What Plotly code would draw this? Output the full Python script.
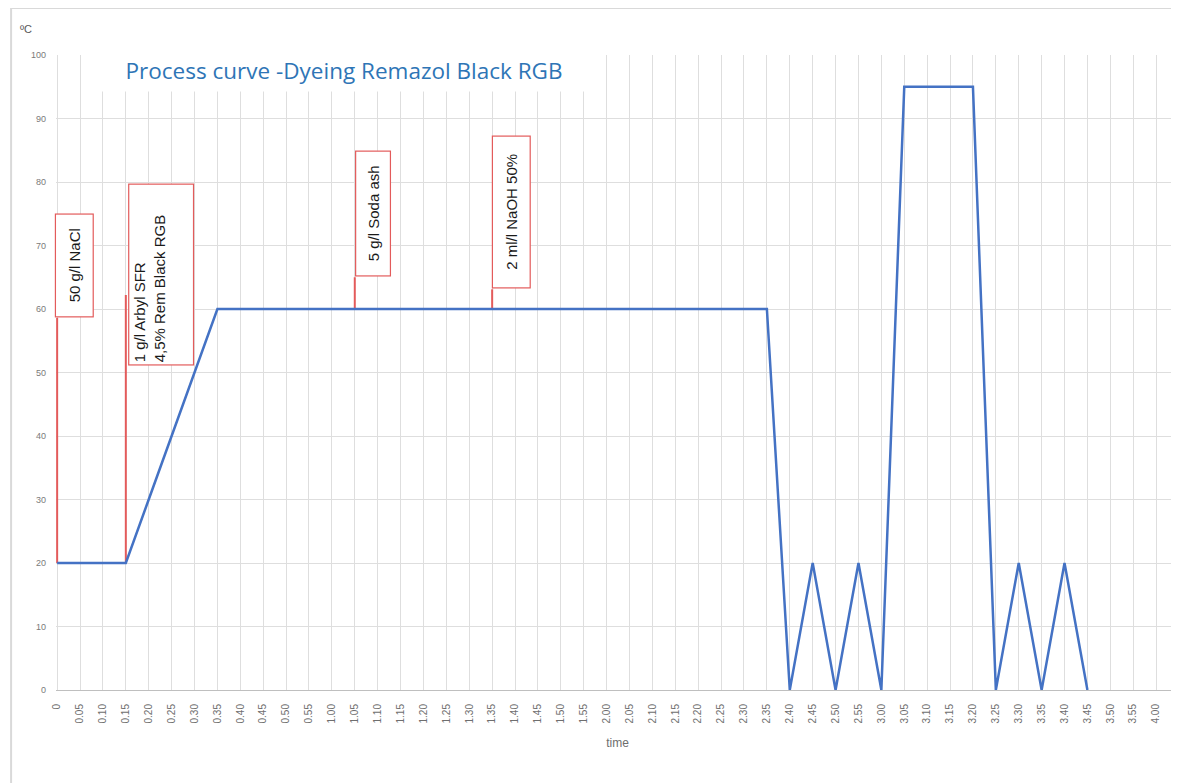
import plotly.graph_objects as go

# ---------------- data ----------------
time_labels = ["0", "0.05", "0.10", "0.15", "0.20", "0.25", "0.30", "0.35", "0.40", "0.45",
               "0.50", "0.55", "1.00", "1.05", "1.10", "1.15", "1.20", "1.25", "1.30", "1.35",
               "1.40", "1.45", "1.50", "1.55", "2.00", "2.05", "2.10", "2.15", "2.20", "2.25",
               "2.30", "2.35", "2.40", "2.45", "2.50", "2.55", "3.00", "3.05", "3.10", "3.15",
               "3.20", "3.25", "3.30", "3.35", "3.40", "3.45", "3.50", "3.55", "4.00"]

temperature = [20, 20, 20, 20, 30, 40, 50,
               60, 60, 60, 60, 60, 60, 60, 60, 60, 60, 60, 60, 60, 60, 60, 60, 60, 60, 60,
               60, 60, 60, 60, 60, 60,
               0, 20, 0, 20, 0,
               95, 95, 95, 95,
               0, 20, 0, 20, 0]

y_ticks = [0, 10, 20, 30, 40, 50, 60, 70, 80, 90, 100]

callout_times = ["0", "0.15", "1.05", "1.35"]
callout_texts = ["50 g/l NaCl",
                 "1 g/l Arbyl SFR<br>4,5% Rem Black RGB",
                 "5 g/l Soda ash",
                 "2 ml/l NaOH 50%"]

# ---------------- layout config for callouts (not data) ----------------
callout_line_top = [58.6, 62.2, 65.0, 63.1]
callout_box_y = [66.8, 65.4, 75.0, 75.3]
callout_box_w = [98, 176, 120, 147]
callout_box_h = [33, 60, 30, 33]
callout_xshift = [-2, 2, 0, 0]
callout_align = ["center", "left", "center", "center"]
callout_valign = ["middle", "top", "middle", "middle"]

RED = "#E35B5B"
BLUE = "#4472C4"
GRID = "#DEDEDE"

fig = go.Figure()

temp_at = dict(zip(time_labels, temperature))
for t, top in zip(callout_times, callout_line_top):
    fig.add_trace(go.Scatter(x=[t, t], y=[temp_at[t], top], mode="lines",
                             line=dict(color=RED, width=2), showlegend=False,
                             hoverinfo="skip"))

fig.add_trace(go.Scatter(x=time_labels[:len(temperature)], y=temperature, mode="lines",
                         line=dict(color=BLUE, width=2.5), showlegend=False))

annotations = []
for t, txt, yb, w, h, xs, al, va in zip(callout_times, callout_texts, callout_box_y,
                                        callout_box_w, callout_box_h, callout_xshift,
                                        callout_align, callout_valign):
    annotations.append(dict(x=time_labels.index(t), y=yb, xref="x", yref="y", text=txt,
                            showarrow=False,
                            textangle=-90, xanchor="left", yanchor="middle", xshift=xs,
                            width=w, height=h, align=al, valign=va,
                            bgcolor="white", bordercolor=RED, borderwidth=1.2, borderpad=2,
                            font=dict(family="Liberation Sans, Arial", size=15, color="#1a1a1a")))

annotations.append(dict(x=0.2567, y=0.976, xref="paper", yref="paper",
                        text="Process curve -Dyeing Remazol Black RGB", showarrow=False,
                        xanchor="center", yanchor="middle", width=490, height=40,
                        bgcolor="white", align="center", valign="middle",
                        font=dict(family="Open Sans", size=22.5, color="#2E75B6")))
annotations.append(dict(x=-0.0267, y=1.0, xref="paper", yref="paper", text="ºC",
                        showarrow=False, xanchor="center", yanchor="bottom", yshift=18,
                        font=dict(family="Liberation Sans, Arial", size=11, color="#595959")))

fig.update_layout(
    width=1171, height=775,
    margin=dict(l=48, r=0, t=47, b=93),
    paper_bgcolor="white", plot_bgcolor="white",
    annotations=annotations,
    shapes=[
        dict(type="line", xref="paper", yref="paper", x0=-0.040, x1=1.0, y0=1.074, y1=1.074,
             line=dict(color="#D9D9D9", width=2)),
        dict(type="line", xref="paper", yref="paper", x0=-0.040, x1=-0.040, y0=1.074, y1=-0.16,
             line=dict(color="#D9D9D9", width=2)),
    ],
    xaxis=dict(type="category", categoryorder="array", categoryarray=time_labels,
               range=[-0.05, 49.0], tickangle=-90, showgrid=True, gridcolor=GRID, gridwidth=1,
               showline=True, linecolor="#BFBFBF", linewidth=1, ticks="",
               ticklabelstandoff=9,
               tickfont=dict(family="Liberation Sans, Arial", size=10, color="#6E6E6E"),
               title=dict(text="time", standoff=16,
                          font=dict(family="Liberation Sans, Arial", size=12, color="#6E6E6E")),
               zeroline=False),
    yaxis=dict(range=[0, 100], tickvals=y_ticks, showgrid=True, gridcolor=GRID, gridwidth=1,
               zeroline=False, showline=False, ticks="", ticklabelstandoff=9,
               tickfont=dict(family="Liberation Sans, Arial", size=9, color="#7A7A7A")),
)

fig.write_html("out.html")
